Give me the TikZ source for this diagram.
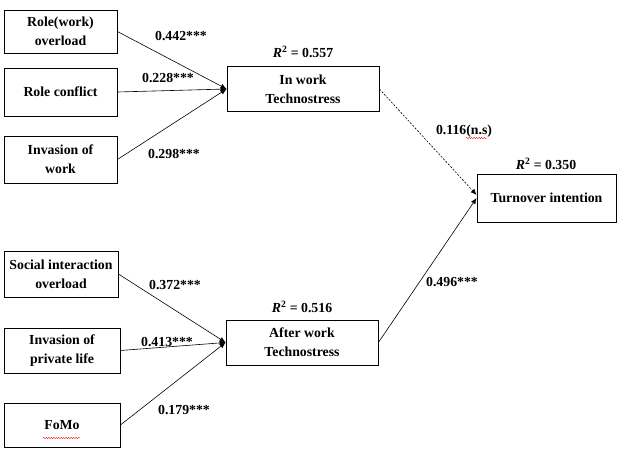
\documentclass[tikz,border=0pt]{standalone}
\usepackage{fontspec}
\setmainfont{Liberation Serif}
\usetikzlibrary{arrows.meta,decorations.pathmorphing}

\begin{document}
\begin{tikzpicture}[x=1pt,y=-1pt,
    font=\bfseries\fontsize{13.8}{19}\selectfont,
    varbox/.style={draw,line width=0.8pt,align=center,inner sep=0pt},
    path/.style={line width=0.6pt,-{Latex[length=6pt,width=5pt]}},
    coef/.style={inner sep=0pt},
    wavy/.style={red,line width=0.4pt,decorate,decoration={snake,amplitude=0.6pt,segment length=2.5pt}}]
    \useasboundingbox (0,0) rectangle (636,449);
    \node[varbox,minimum width=113pt,minimum height=43pt] (rwo) at (60.5,31.5) {Role(work)\\overload};
    \node[varbox,minimum width=113pt,minimum height=48pt] (rc) at (60.5,92) {Role conflict};
    \node[varbox,minimum width=113pt,minimum height=47pt] (iow) at (60.5,159.5) {Invasion of\\work};
    \node[varbox,minimum width=152pt,minimum height=45pt] (inw) at (303,89) {In work\\Technostress};
    \node[varbox,minimum width=139pt,minimum height=48pt] (ti) at (546.5,198) {Turnover intention};
    \node[varbox,minimum width=114pt,minimum height=46pt] (sio) at (61,274) {Social interaction\\overload};
    \node[varbox,minimum width=116pt,minimum height=45pt] (ipl) at (62,350.5) {Invasion of\\private life};
    \node[varbox,minimum width=116pt,minimum height=44pt] (fomo) at (62,425) {FoMo};
    \node[varbox,minimum width=152pt,minimum height=45pt] (afw) at (302,342.5) {After work\\Technostress};
    \draw[path] (rwo.east) -- (inw.west);
    \draw[path] (rc.east) -- (inw.west);
    \draw[path] (iow.east) -- (inw.west);
    \draw[path] (sio.east) -- (afw.west);
    \draw[path] (ipl.east) -- (afw.west);
    \draw[path] (fomo.east) -- (afw.west);
    \draw[path,dash pattern=on 2pt off 1.5pt] (inw.east) -- ([yshift=3pt]ti.west);
    \draw[path] (afw.east) -- (ti.west);
    \node[coef] (c1) at (181,36) {0.442***};
    \node[coef] (c2) at (168,78) {0.228***};
    \node[coef] (c3) at (174,154) {0.298***};
    \node[coef] (c4) at (175,285) {0.372***};
    \node[coef] (c5) at (167,342) {0.413***};
    \node[coef] (c6) at (184,410) {0.179***};
    \node[coef] (c7) at (464,131) {0.116(n.s)};
    \node[coef] (c8) at (452,282) {0.496***};
    \node[coef] (r1) at (303,52) {\textit{R}\textsuperscript{2} = 0.557};
    \node[coef] (r2) at (302,307) {\textit{R}\textsuperscript{2} = 0.516};
    \node[coef] (r3) at (546,164) {\textit{R}\textsuperscript{2} = 0.350};
    \draw[wavy] (466,138) -- (487,138);
    \draw[wavy] (43,438) -- (80,438);
\end{tikzpicture}
\end{document}
